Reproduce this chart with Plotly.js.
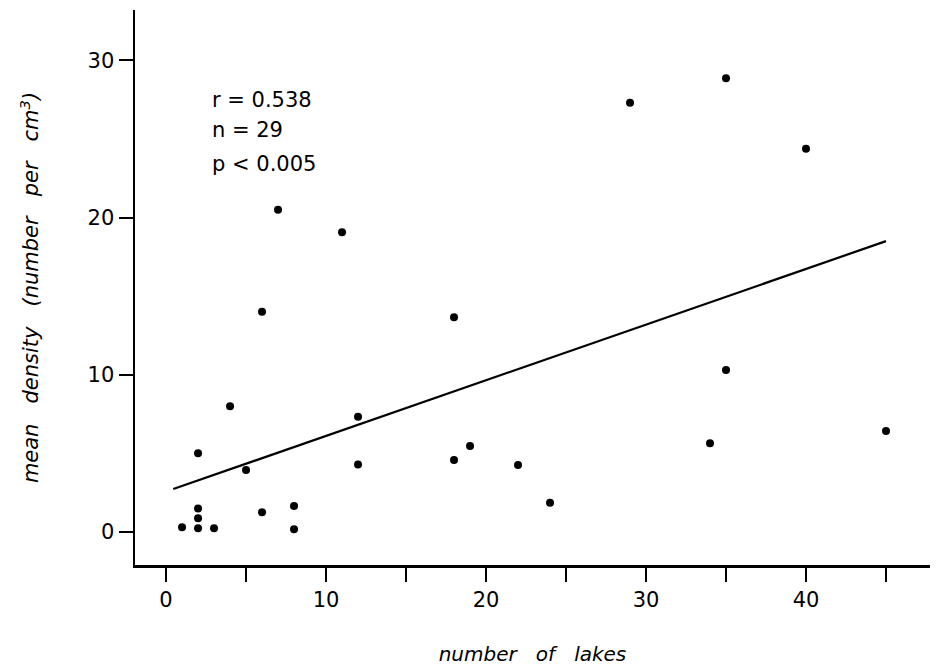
<!DOCTYPE html>
<html>
<head>
<meta charset="utf-8">
<script src="https://cdn.plot.ly/plotly-3.0.1.min.js"></script>
<style>html,body{margin:0;padding:0;background:#fff;}#chart{width:951px;height:666px;}</style>
</head>
<body>
<div id="chart"></div>
<script>
// number of lakes (x) and mean density (y)
const lakes   = [1, 2, 2, 2, 2, 3, 4, 5, 6, 6, 7, 8, 8, 11, 12, 12, 18, 18, 19, 22, 24, 29, 34, 35, 35, 40, 45];
const density = [0.3, 0.23, 0.87, 1.5, 5.0, 0.23, 8.0, 3.95, 14.0, 1.25, 20.5, 1.65, 0.17, 19.07, 7.33, 4.3, 13.65, 4.58, 5.47, 4.26, 1.86, 27.3, 5.64, 28.86, 10.3, 24.37, 6.42];
// regression line end points
const fitX = [0.45, 45];
const fitY = [2.73, 18.5];
const xTickVals = [0, 5, 10, 15, 20, 25, 30, 35, 40, 45];
const xTickText = ['0', '', '10', '', '20', '', '30', '', '40', ''];
const yTickVals = [0, 10, 20, 30];
const statsLines = ['r = 0.538', 'n = 29', 'p < 0.005'];

const font = 'DejaVu Sans, Liberation Sans, sans-serif';
const gap = '\u00a0\u00a0\u00a0';

const traces = [
  {x: lakes, y: density, mode: 'markers', type: 'scatter',
   marker: {color: '#000', size: 8}, hoverinfo: 'x+y'},
  {x: fitX, y: fitY, mode: 'lines', type: 'scatter',
   line: {color: '#000', width: 2.2}, hoverinfo: 'skip'}
];

const layout = {
  width: 951, height: 666,
  paper_bgcolor: '#fff', plot_bgcolor: '#fff',
  showlegend: false,
  margin: {l: 135, r: 21, t: 10, b: 101},
  font: {family: font, color: '#000', size: 21},
  xaxis: {
    range: [-1.94, 47.75], showgrid: false, zeroline: false,
    showline: true, linecolor: '#000', linewidth: 2.5,
    ticks: 'outside', ticklen: 14, tickwidth: 2, tickcolor: '#000',
    tickvals: xTickVals, ticktext: xTickText,
    tickfont: {family: font, size: 21, color: '#000'},
    title: {text: '<i>number' + gap + 'of' + gap + 'lakes</i>', font: {family: font, size: 20, color: '#000'}, standoff: 38}
  },
  yaxis: {
    range: [-2.1, 33.2], showgrid: false, zeroline: false,
    showline: true, linecolor: '#000', linewidth: 2.5,
    ticks: 'outside', ticklen: 14, tickwidth: 2, tickcolor: '#000',
    tickvals: yTickVals,
    tickfont: {family: font, size: 21, color: '#000'},
    title: {text: '<i>mean' + gap + 'density' + gap + '(number' + gap + 'per' + gap + 'cm<sup>3</sup>)</i>', font: {family: font, size: 21, color: '#000'}, standoff: 43}
  },
  annotations: statsLines.map((t, i) => ({
    text: t, xref: 'paper', yref: 'paper',
    x: (210 - 135) / (930 - 135), xanchor: 'left',
    y: (565 - [100, 130, 164][i]) / (565 - 10), yanchor: 'middle',
    showarrow: false, font: {family: font, size: 21, color: '#000'}
  }))
};

Plotly.newPlot('chart', traces, layout, {displayModeBar: false, staticPlot: true});
</script>
</body>
</html>
